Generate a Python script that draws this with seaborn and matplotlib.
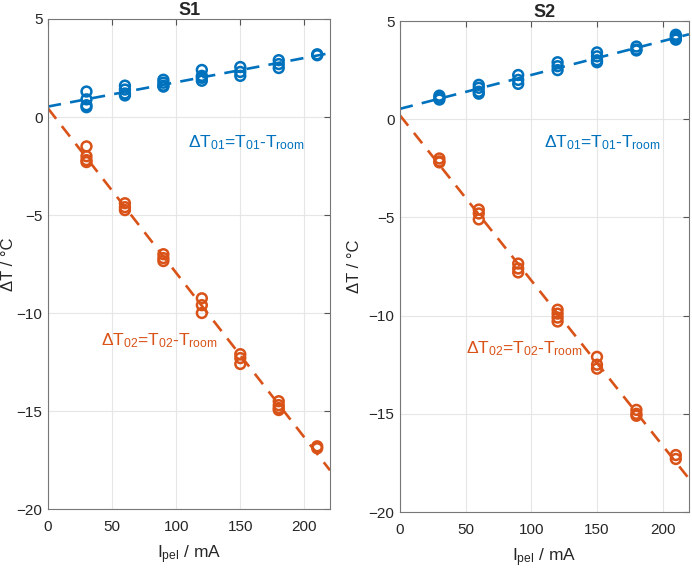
import matplotlib
matplotlib.use("Agg")
import matplotlib.pyplot as plt
import seaborn as sns
import numpy as np
import pandas as pd

# Peltier current (mA) and measured temperature differences (one list per current)
currents = [30, 60, 90, 120, 150, 180, 210]

s1_dt01 = [[1.3, 0.9, 0.6, 0.5], [1.6, 1.4, 1.2, 1.1], [1.9, 1.75, 1.6, 1.55],
           [2.4, 2.1, 1.85, 2.0], [2.55, 2.3, 2.1], [2.9, 2.7, 2.5], [3.2, 3.15]]
s1_dt02 = [[-1.5, -2.0, -2.2, -2.3], [-4.4, -4.6, -4.75], [-7.0, -7.2, -7.35],
           [-9.25, -9.6, -10.0], [-12.1, -12.3, -12.6], [-14.5, -14.7, -14.85, -14.95],
           [-16.8, -16.9]]

s2_dt01 = [[1.2, 1.1, 1.0], [1.75, 1.6, 1.4, 1.3], [2.25, 2.0, 1.8],
           [2.9, 2.7, 2.5], [3.4, 3.2, 3.0, 2.9], [3.7, 3.55, 3.5], [4.3, 4.2, 4.1, 4.05]]
s2_dt02 = [[-2.0, -2.15, -2.2], [-4.6, -4.8, -5.1], [-7.35, -7.6, -7.8],
           [-9.7, -9.9, -10.1, -10.3], [-12.1, -12.5, -12.7], [-14.8, -15.0, -15.1],
           [-17.1, -17.3]]

titles = ["S1", "S2"]
xticks = [0, 50, 100, 150, 200]
yticks = [-20, -15, -10, -5, 0, 5]

blue = "#0072BD"
orange = "#D95319"


def to_frame(values):
    rows = [(c, v) for c, vs in zip(currents, values) for v in vs]
    return pd.DataFrame(rows, columns=["I", "dT"])


sns.set_style("whitegrid")
plt.rcParams["font.family"] = ["Liberation Sans", "DejaVu Sans"]
plt.rcParams["mathtext.default"] = "regular"

fig = plt.figure(figsize=(6.92, 5.74), dpi=100)
ax1 = fig.add_axes([0.0694, 0.1132, 0.4075, 0.8537])
ax2 = fig.add_axes([0.578, 0.108, 0.4176, 0.8554])

panels = [
    (ax1, s1_dt01, s1_dt02, (109, -1.3), (41, -11.4), -0.112),
    (ax2, s2_dt01, s2_dt02, (110, -1.2), (50, -11.7), -0.132),
]

for (ax, d01, d02, pos01, pos02, ylab_x), title in zip(panels, titles):
    ax.set_xlim(0, 220)
    ax.set_ylim(-20, 5)
    for vals, col in [(d01, blue), (d02, orange)]:
        df = to_frame(vals)
        sns.regplot(data=df, x="I", y="dT", ax=ax, ci=None, truncate=False,
                    marker="o", color=col,
                    scatter_kws=dict(s=50, facecolors="none", edgecolors=col,
                                     linewidths=1.8, alpha=1, zorder=3),
                    line_kws=dict(ls=(0, (5, 3.5)), lw=1.9, zorder=2))
    ax.set_xlim(0, 220)
    ax.set_ylim(-20, 5)
    ax.set_xticks(xticks)
    ax.set_yticks(yticks)
    ax.tick_params(labelsize=11, direction="in", length=4, color="#555555",
                   top=True, right=True, labelcolor="#262626")
    ax.tick_params(axis="x", pad=8)
    ax.tick_params(axis="y", pad=4)
    ax.grid(True, color="#e6e6e6", lw=0.8)
    for sp in ax.spines.values():
        sp.set_color("#777777")
        sp.set_linewidth(0.8)
    ax.set_xlabel("I$_{pel}$ / mA", fontsize=12.5, color="#262626", labelpad=7)
    ax.set_ylabel("ΔT / °C", fontsize=12, color="#262626")
    ax.yaxis.set_label_coords(ylab_x, 0.5)
    ax.set_title(title, fontsize=13, fontweight="bold", pad=3)
    ax.text(pos01[0], pos01[1], "ΔT$_{01}$=T$_{01}$-T$_{room}$", color=blue,
            fontsize=12.5, va="center", ha="left")
    ax.text(pos02[0], pos02[1], "ΔT$_{02}$=T$_{02}$-T$_{room}$", color=orange,
            fontsize=12.5, va="center", ha="left")

fig.savefig("out.png", dpi=100)
